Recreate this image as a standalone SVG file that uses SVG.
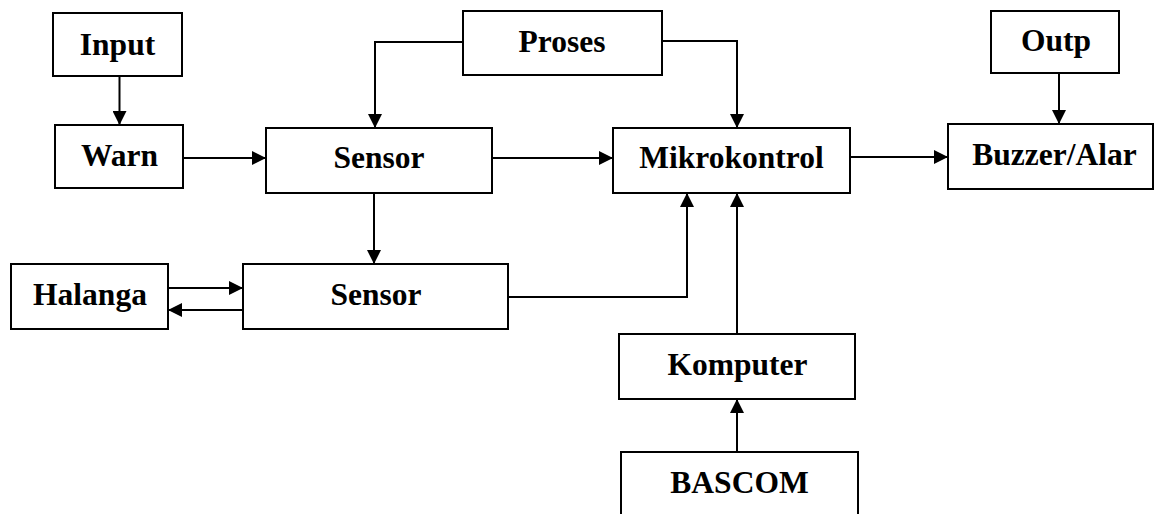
<svg xmlns="http://www.w3.org/2000/svg" width="1154" height="514" viewBox="0 0 1154 514">
<style>
.box{fill:#fff;stroke:#000;stroke-width:2}
.lbl{font-family:"Liberation Serif","Times New Roman",serif;font-weight:bold;font-size:31.5px;fill:#000;text-anchor:middle}
.con{fill:none;stroke:#000;stroke-width:2}
</style>
<defs>
<marker id="ah" markerUnits="userSpaceOnUse" markerWidth="14" markerHeight="14" refX="14" refY="7" orient="auto">
<path d="M0,0 L14,7 L0,14 z" fill="#000"/>
</marker>
</defs>
<rect width="1154" height="514" fill="#fff"/>
<g id="connectors">
<path class="con" d="M119.5,76 V125" marker-end="url(#ah)"/>
<path class="con" d="M183,158 H266" marker-end="url(#ah)"/>
<path class="con" d="M463,42 H375 V128" marker-end="url(#ah)"/>
<path class="con" d="M662,41 H737 V128" marker-end="url(#ah)"/>
<path class="con" d="M492,158 H613" marker-end="url(#ah)"/>
<path class="con" d="M850,157 H948" marker-end="url(#ah)"/>
<path class="con" d="M1059,73 V124" marker-end="url(#ah)"/>
<path class="con" d="M374,193 V264" marker-end="url(#ah)"/>
<path class="con" d="M168,288 H243" marker-end="url(#ah)"/>
<path class="con" d="M243,310 H168" marker-end="url(#ah)"/>
<path class="con" d="M508,297 H687 V193" marker-end="url(#ah)"/>
<path class="con" d="M737,334 V193" marker-end="url(#ah)"/>
<path class="con" d="M737,452 V399" marker-end="url(#ah)"/>
</g>
<g id="input"><rect class="box" x="53" y="13" width="129" height="63"/><text class="lbl" x="117.5" y="55">Input</text></g>
<g id="warn"><rect class="box" x="55" y="125" width="128" height="63"/><text class="lbl" x="119.5" y="166">Warn</text></g>
<g id="proses"><rect class="box" x="463" y="11" width="199" height="64"/><text class="lbl" x="562" y="52">Proses</text></g>
<g id="sensor1"><rect class="box" x="266" y="128" width="226" height="65"/><text class="lbl" x="379" y="168">Sensor</text></g>
<g id="mikrokontrol"><rect class="box" x="613" y="128" width="237" height="65"/><text class="lbl" x="731.5" y="168">Mikrokontrol</text></g>
<g id="outp"><rect class="box" x="991" y="11" width="128" height="62"/><text class="lbl" x="1056" y="51">Outp</text></g>
<g id="buzzer"><rect class="box" x="948" y="124" width="205" height="65"/><text class="lbl" x="1054.5" y="165">Buzzer/Alar</text></g>
<g id="halanga"><rect class="box" x="11" y="264" width="157" height="65"/><text class="lbl" x="90" y="305">Halanga</text></g>
<g id="sensor2"><rect class="box" x="243" y="264" width="265" height="65"/><text class="lbl" x="376" y="305">Sensor</text></g>
<g id="komputer"><rect class="box" x="619" y="334" width="236" height="65"/><text class="lbl" x="737.5" y="375">Komputer</text></g>
<g id="bascom"><rect class="box" x="621" y="452" width="237" height="75"/><text class="lbl" x="739.5" y="493">BASCOM</text></g>
</svg>
